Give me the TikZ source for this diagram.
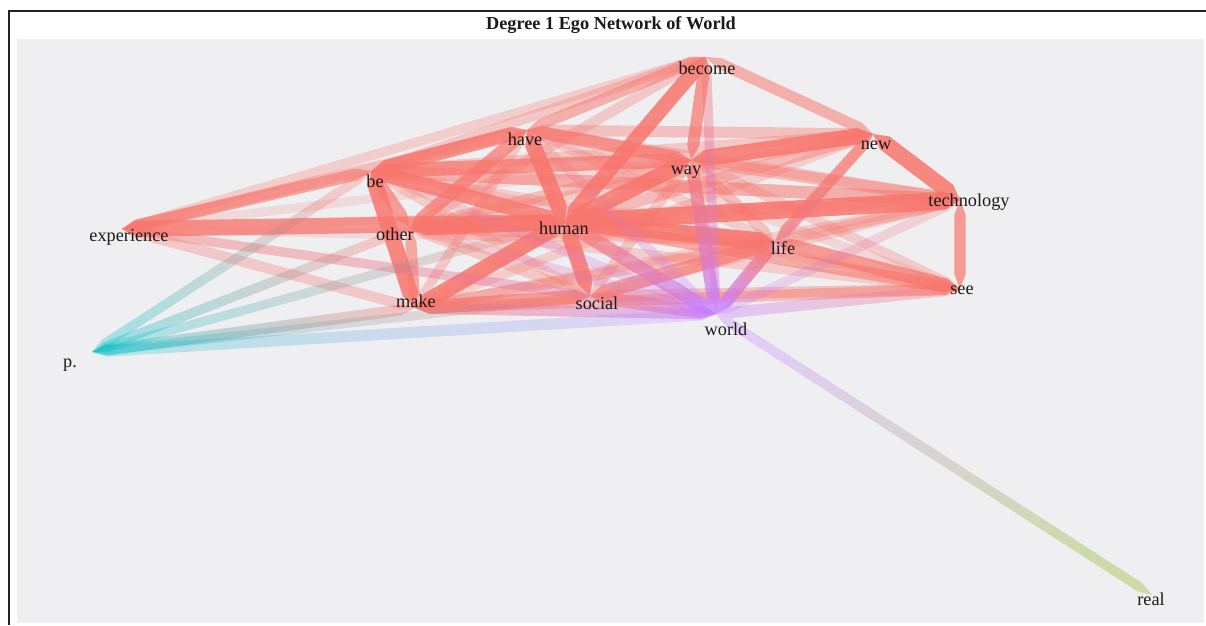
\documentclass[tikz,border=0pt]{standalone}
\usepackage{fontspec}
\setmainfont{Liberation Serif}
\usetikzlibrary{calc}
\definecolor{ered}{HTML}{F8766D}
\definecolor{epurple}{HTML}{C77CFF}
\definecolor{eteal}{HTML}{00BFC4}
\definecolor{egreen}{HTML}{7CAE00}
\definecolor{panel}{RGB}{239,239,242}
\definecolor{frame}{RGB}{34,34,34}
\definecolor{txt}{RGB}{26,26,26}
\newcommand{\edgeshape}[3]{(#1) -- ($($(#1)!11pt!(#2)$)!#3!90:(#2)$) -- ($($(#2)!11pt!(#1)$)!#3!-90:(#1)$) -- (#2) -- ($($(#2)!11pt!(#1)$)!#3!90:(#1)$) -- ($($(#1)!11pt!(#2)$)!#3!-90:(#2)$) -- cycle}
\newcommand{\redge}[4]{\fill[ered, opacity=#4] \edgeshape{#1}{#2}{#3};}
\newcommand{\gedge}[6]{%
  \pgfmathanglebetweenpoints{\pgfpointanchor{#1}{center}}{\pgfpointanchor{#2}{center}}%
  \pgfmathsetmacro\shang{\pgfmathresult+90}%
  \shade[left color=#5, right color=#6, shading angle=\shang, opacity=#4] \edgeshape{#1}{#2}{#3};}
\tikzset{
  lbl/.style={text=txt, font=\fontsize{13.7}{15}\selectfont, inner sep=0pt},
  ttl/.style={text=txt, font=\fontsize{13.7}{15}\selectfont\bfseries, inner sep=0pt}
}
\begin{document}
\begin{tikzpicture}[x=0.75pt, y=-0.75pt]
\useasboundingbox (0,0) rectangle (1206,625);
\fill[white] (0,0) rectangle (1206,625);
\fill[panel] (17,39) rectangle (1204,623);
\draw[frame, line width=1.1pt] (9,625) -- (9,11) -- (1206,11);
\node[ttl] (title) at (611,25) {Degree 1 Ego Network of World};
% node points
\coordinate (nbecome) at (706,57);
\coordinate (nhave) at (527,130);
\coordinate (nway) at (691,160);
\coordinate (nnew) at (873,134);
\coordinate (nbe) at (371,171);
\coordinate (ntech) at (960,200);
\coordinate (nexp) at (122,229);
\coordinate (nother) at (410,228);
\coordinate (nhuman) at (565,222);
\coordinate (nlife) at (775,242);
\coordinate (nmake) at (415,308);
\coordinate (nsocial) at (590,296);
\coordinate (nsee) at (960,289);
\coordinate (nworld) at (716,314);
\coordinate (np) at (92,352);
\coordinate (nreal) at (1152,595);
% light red edges
\redge{nexp}{nway}{3.4pt}{0.18}
\redge{nexp}{nlife}{3.4pt}{0.18}
\redge{nexp}{ntech}{3.1pt}{0.15}
\redge{nbecome}{nbe}{3.9pt}{0.32}
\redge{nbecome}{nexp}{3.6pt}{0.28}
\redge{nbecome}{nother}{3.9pt}{0.32}
\redge{nhave}{nnew}{4.2pt}{0.38}
\redge{nhave}{ntech}{4.2pt}{0.32}
\redge{nhave}{nlife}{3.6pt}{0.28}
\redge{nhave}{nsocial}{3.6pt}{0.28}
\redge{nhave}{nmake}{3.6pt}{0.32}
\redge{nhave}{nsee}{3.4pt}{0.2}
\redge{nbe}{nsocial}{3.6pt}{0.28}
\redge{nbe}{nlife}{3.6pt}{0.28}
\redge{nbe}{nsee}{3.4pt}{0.22}
\redge{nbe}{nnew}{3.9pt}{0.32}
\redge{nother}{nway}{4.2pt}{0.38}
\redge{nother}{nlife}{3.9pt}{0.32}
\redge{nother}{ntech}{3.9pt}{0.32}
\redge{nother}{nsee}{3.6pt}{0.28}
\redge{nother}{nnew}{3.6pt}{0.28}
\redge{nother}{nsocial}{3.9pt}{0.32}
\redge{nmake}{nway}{3.6pt}{0.28}
\redge{nmake}{nnew}{3.6pt}{0.28}
\redge{nmake}{ntech}{3.6pt}{0.28}
\redge{nmake}{nsee}{4.2pt}{0.42}
\redge{nsocial}{nway}{3.9pt}{0.32}
\redge{nsocial}{ntech}{3.6pt}{0.28}
\redge{nsocial}{nsee}{4.2pt}{0.38}
\redge{nway}{nlife}{4.2pt}{0.38}
\redge{nway}{nsee}{3.9pt}{0.3}
\redge{nway}{ntech}{4.5pt}{0.42}
\redge{nnew}{nhuman}{4.5pt}{0.42}
\redge{ntech}{nlife}{4.2pt}{0.38}
\redge{nlife}{nmake}{4.2pt}{0.38}
\redge{nexp}{nhave}{4.2pt}{0.42}
\redge{nexp}{nmake}{3.9pt}{0.32}
\redge{nexp}{nsocial}{3.6pt}{0.28}
% medium red edges
\redge{nexp}{nbe}{4.5pt}{0.62}
\redge{nbecome}{nhave}{4.2pt}{0.52}
\redge{nbecome}{nnew}{4.2pt}{0.52}
\redge{nbecome}{nway}{4.5pt}{0.72}
\redge{nbe}{nhave}{5.3pt}{0.78}
\redge{nbe}{nother}{4.5pt}{0.68}
\redge{nother}{nmake}{4.2pt}{0.58}
\redge{nhave}{nway}{4.8pt}{0.68}
\redge{nbe}{nway}{5.3pt}{0.72}
\redge{nbe}{ntech}{4.8pt}{0.52}
\redge{nother}{nhave}{4.8pt}{0.72}
\redge{nmake}{nsocial}{5.3pt}{0.7}
\redge{nlife}{nsee}{5.3pt}{0.7}
\redge{nnew}{nlife}{4.2pt}{0.68}
\redge{nsocial}{nlife}{5.3pt}{0.65}
\redge{nhuman}{nsee}{4.8pt}{0.55}
\redge{nsee}{ntech}{4.2pt}{0.7}
% thick red edges
\redge{nbe}{nmake}{6pt}{0.85}
\redge{nhave}{nhuman}{6pt}{0.85}
\redge{nhuman}{nsocial}{5.8pt}{0.85}
\redge{nhuman}{nmake}{6pt}{0.85}
\redge{nother}{nhuman}{6pt}{0.85}
\redge{nhuman}{ntech}{6.6pt}{0.85}
\redge{nnew}{ntech}{6pt}{0.85}
\redge{nbecome}{nhuman}{5.6pt}{0.85}
\redge{nexp}{nhuman}{6pt}{0.75}
\redge{nbe}{nhuman}{5.6pt}{0.8}
\redge{nway}{nnew}{6pt}{0.85}
\redge{nhuman}{nway}{6pt}{0.85}
\redge{nhuman}{nlife}{6.2pt}{0.85}
% edges to world (red -> purple)
\gedge{nexp}{nworld}{3.4pt}{0.2}{ered}{epurple}
\gedge{nbe}{nworld}{3.6pt}{0.28}{ered}{epurple}
\gedge{nhave}{nworld}{3.6pt}{0.28}{ered}{epurple}
\gedge{nother}{nworld}{3.6pt}{0.28}{ered}{epurple}
\gedge{nnew}{nworld}{3.6pt}{0.22}{ered}{epurple}
\gedge{ntech}{nworld}{3.6pt}{0.25}{ered}{epurple}
\gedge{nsee}{nworld}{4.2pt}{0.35}{ered}{epurple}
\gedge{nbecome}{nworld}{3.6pt}{0.42}{ered}{epurple}
\gedge{nmake}{nworld}{4.2pt}{0.48}{ered}{epurple}
\gedge{nsocial}{nworld}{5pt}{0.58}{ered}{epurple}
\gedge{nhuman}{nworld}{5.3pt}{0.68}{ered}{epurple}
\gedge{nway}{nworld}{4.8pt}{0.72}{ered}{epurple}
\gedge{nlife}{nworld}{4.8pt}{0.72}{ered}{epurple}
% edges of p.
\gedge{np}{nbe}{3.6pt}{0.3}{eteal}{ered}
\gedge{np}{nother}{3.6pt}{0.32}{eteal}{ered}
\gedge{np}{nhuman}{3.4pt}{0.28}{eteal}{ered}
\gedge{np}{nmake}{4.2pt}{0.36}{eteal}{ered}
\gedge{np}{nsocial}{3.4pt}{0.26}{eteal}{ered}
\gedge{np}{nworld}{4.2pt}{0.25}{eteal}{epurple}
% world -- real
\gedge{nworld}{nreal}{3.6pt}{0.3}{epurple}{egreen}
% labels
\node[lbl] (become) at (707,68) {become};
\node[lbl] (have) at (525,139) {have};
\node[lbl] (way) at (686,172) {way};
\node[lbl] (new) at (876,145) {new};
\node[lbl] (be) at (375,181) {be};
\node[lbl] (technology) at (969,202) {technology};
\node[lbl] (experience) at (129,237) {experience};
\node[lbl] (other) at (395,234) {other};
\node[lbl] (human) at (564,228) {human};
\node[lbl] (life) at (783,248) {life};
\node[lbl] (make) at (416,301) {make};
\node[lbl] (social) at (597,303) {social};
\node[lbl] (see) at (962,290) {see};
\node[lbl] (world) at (726,329) {world};
\node[lbl] (p) at (70,365) {p.};
\node[lbl] (real) at (1151,599) {real};
\end{tikzpicture}
\end{document}
